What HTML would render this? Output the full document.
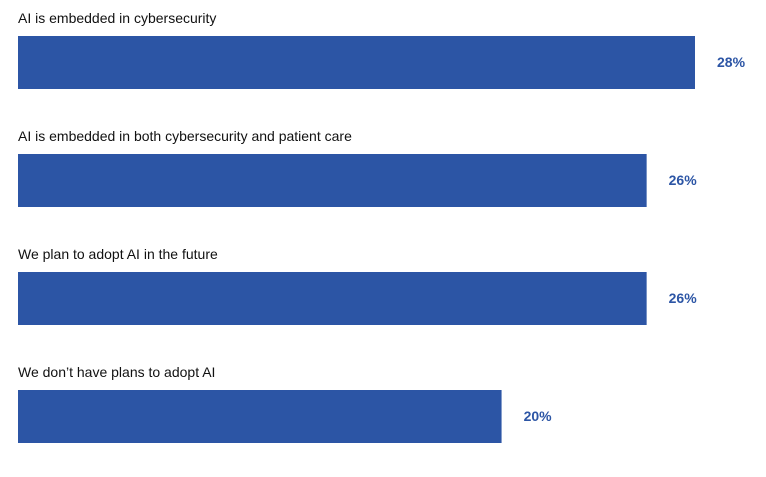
<!DOCTYPE html>
<html><head><meta charset="utf-8"><style>
body{margin:0;background:#fff;width:766px;height:472px;overflow:hidden}
svg text{font-family:"Liberation Sans",Arial,sans-serif}
</style></head><body>
<svg id="chart" width="766" height="472" xmlns="http://www.w3.org/2000/svg"></svg>
<script>
const categories = ["AI is embedded in cybersecurity","AI is embedded in both cybersecurity and patient care","We plan to adopt AI in the future","We don\u2019t have plans to adopt AI"];
const values = [28, 26, 26, 20];
const valueLabels = ["28%","26%","26%","20%"];
const svg = document.getElementById('chart');
const NS = 'http://www.w3.org/2000/svg';
const x0 = 18, pxPer = 677/28;
const xScale = v => v * pxPer;
const rowTop = i => 36 + i * 118;
categories.forEach((c, i) => {
  const t = document.createElementNS(NS, 'text');
  
  
  t.setAttribute('x', x0); t.setAttribute('y', rowTop(i) - 13);
  t.setAttribute('font-size', '14'); t.setAttribute('fill', '#111');
  t.textContent = c; svg.appendChild(t);
  const r = document.createElementNS(NS, 'rect');
  
  
  r.setAttribute('x', x0); r.setAttribute('y', rowTop(i));
  r.setAttribute('width', xScale(values[i])); r.setAttribute('height', 53);
  r.setAttribute('fill', '#2c55a5'); svg.appendChild(r);
  const v = document.createElementNS(NS, 'text');
  
  
  v.setAttribute('x', x0 + xScale(values[i]) + 22); v.setAttribute('y', rowTop(i) + 31);
  v.setAttribute('font-size', '14'); v.setAttribute('font-weight', 'bold'); v.setAttribute('fill', '#2c55a5');
  v.textContent = valueLabels[i]; svg.appendChild(v);
});
</script>
</body></html>
